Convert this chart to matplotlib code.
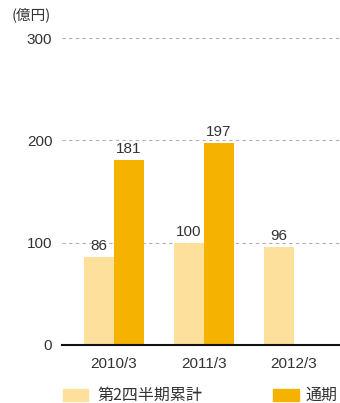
import matplotlib
matplotlib.use('Agg')
import matplotlib.pyplot as plt
import numpy as np
from matplotlib.patches import Rectangle

plt.rcParams['font.family'] = ['Liberation Sans', 'Noto Sans CJK JP', 'DejaVu Sans']

# Данные
years = ['2010/3', '2011/3', '2012/3']
half = [86, 100, 96]          # 第2四半期累計
full = [181, 197, None]       # 通期
yticks = [0, 100, 200, 300]

c_half = '#fce09b'
c_full = '#f5b300'
txt = '#333333'

fig = plt.figure(figsize=(3.4, 4.03), dpi=100)
ax = fig.add_axes([62/340, 58/403, 278/340, 307/403])

x = np.arange(len(years))
w = 0.333
ax.bar(x - w/2, half, w, color=c_half, zorder=2)
fx = [xi for xi, v in zip(x, full) if v is not None]
fv = [v for v in full if v is not None]
ax.bar(np.array(fx) + w/2, fv, w, color=c_full, zorder=2)

for xi, v in zip(x, half):
    ax.text(xi - w/2, v + 4, str(v), ha='center', va='bottom', fontsize=11, color=txt)
for xi, v in zip(fx, fv):
    ax.text(xi + w/2, v + 4, str(v), ha='center', va='bottom', fontsize=11, color=txt)

ax.set_xlim(-0.578, 2.51)
ax.set_ylim(0, 300)
ax.set_yticks(yticks)
ax.set_yticklabels([str(t) for t in yticks], fontsize=11, color=txt)
ax.set_xticks(x)
ax.set_xticklabels(years, fontsize=11, color=txt)
ax.tick_params(length=0, pad=7)
ax.tick_params(axis='x', pad=9)
for s in ['top', 'right', 'left']:
    ax.spines[s].set_visible(False)
ax.spines['bottom'].set_linewidth(1.5)
ax.spines['bottom'].set_color('#111111')
ax.spines['bottom'].set_zorder(3)
for t in yticks[1:]:
    ax.axhline(t, color='#b0b0b0', lw=0.8, ls=(0, (3, 3)), zorder=1)

fig.text(12/340, 1 - 15/403, '(億円)', fontsize=10.5, color=txt, va='center', ha='left',
         family=['Noto Sans CJK JP', 'DejaVu Sans'])

# Легенда
fig.patches.append(Rectangle((63/340, 1 - 401/403), 25/340, 12/403,
                             transform=fig.transFigure, color=c_half))
fig.text(97/340, 1 - 395/403, '第2四半期累計', fontsize=11.5, color=txt, va='center',
         family=['Noto Sans CJK JP', 'DejaVu Sans'])
fig.patches.append(Rectangle((273/340, 1 - 401/403), 26/340, 12/403,
                             transform=fig.transFigure, color=c_full))
fig.text(306/340, 1 - 395/403, '通期', fontsize=11.5, color=txt, va='center',
         family=['Noto Sans CJK JP', 'DejaVu Sans'])

plt.savefig('out.png', dpi=100)
